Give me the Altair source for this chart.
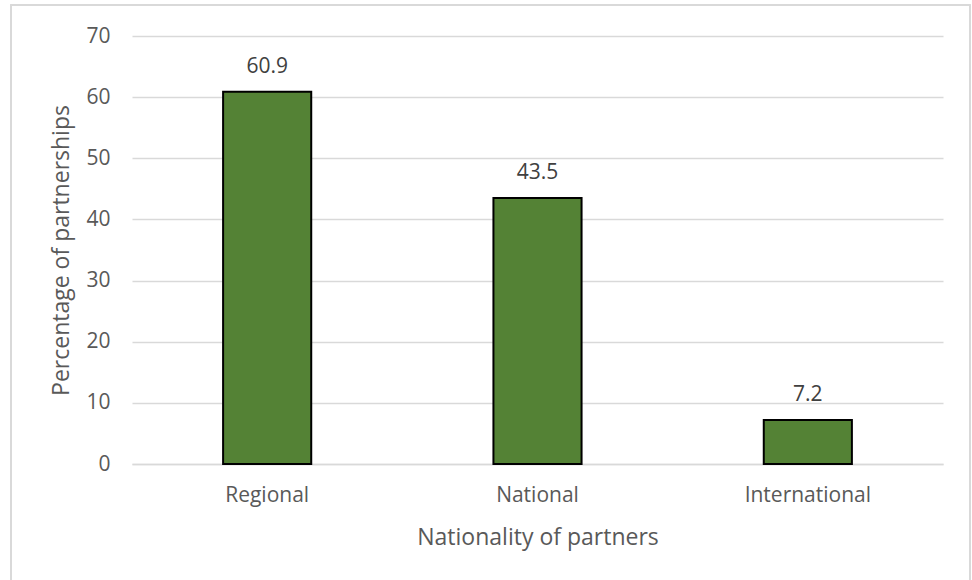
import altair as alt
import pandas as pd

categories = ["Regional", "National", "International"]
values = [60.9, 43.5, 7.2]
y_ticks = [0, 10, 20, 30, 40, 50, 60, 70]

df = pd.DataFrame({"cat": categories, "val": values})

FONT = "Open Sans"
GRAY = "#595959"

x_enc = alt.X("cat:N", sort=categories, title="Nationality of partners",
              scale=alt.Scale(paddingInner=0.674, paddingOuter=0.337),
              axis=alt.Axis(labelAngle=0, labelFontSize=21, labelColor=GRAY, labelFont=FONT,
                            labelPadding=20, ticks=False, domain=True, domainColor="#d9d9d9",
                            domainWidth=1.5, titleFontSize=23, titleColor=GRAY, titleFont=FONT,
                            titleFontWeight="normal", titlePadding=21))
y_enc = alt.Y("val:Q", title="Percentage of partnerships",
              scale=alt.Scale(domain=[0, 70], nice=False),
              axis=alt.Axis(values=y_ticks, labelFontSize=21, labelColor=GRAY, labelFont=FONT,
                            labelPadding=22, ticks=False, domain=False, grid=True,
                            gridColor="#d9d9d9", gridWidth=1.5, titleFontSize=23,
                            titleColor=GRAY, titleFont=FONT, titleFontWeight="normal",
                            titlePadding=12))

bars = alt.Chart(df).mark_bar(color="#548235", stroke="#000000", strokeWidth=2).encode(
    x=x_enc, y=y_enc)

labels = alt.Chart(df).mark_text(fontSize=21, font=FONT, color="#404040", dy=-19,
                                 baseline="alphabetic").encode(
    x=alt.X("cat:N", sort=categories), y="val:Q", text=alt.Text("val:Q", format=".1f"))

border = alt.Chart(df).mark_rect(fill=None, stroke="#d9d9d9", strokeWidth=1.5).encode(
    x=alt.value(-121), x2=alt.value(838), y=alt.value(-31), y2=alt.value(560))

chart = alt.layer(border, bars, labels).properties(
    width=811, height=428,
    autosize=alt.AutoSizeParams(type="none"),
    padding={"left": 132, "top": 36, "right": 29, "bottom": 116},
    background="white",
).configure_view(stroke=None)

chart.save("out.html", embed_options={"renderer": "svg", "actions": False})
